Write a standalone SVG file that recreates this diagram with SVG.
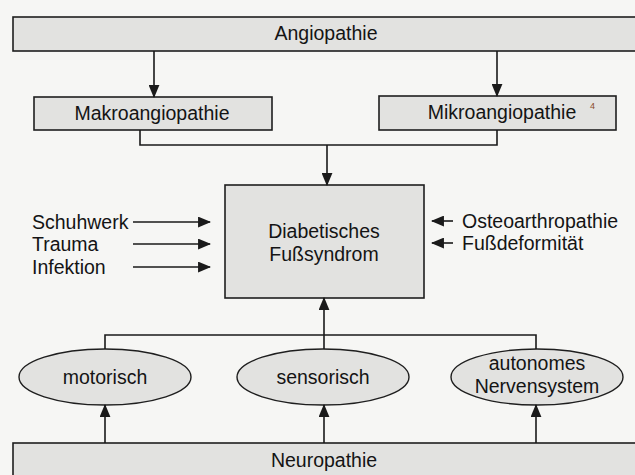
<svg xmlns="http://www.w3.org/2000/svg" width="635" height="475" viewBox="0 0 635 475">
<style>
.box{fill:#e2e2e0;stroke:#1e1e1e;stroke-width:1.6}
.ell{fill:#e2e2e0;stroke:#1e1e1e;stroke-width:1.4}
.t{font-family:"Liberation Sans",Arial,sans-serif;font-size:19.5px;fill:#141414;text-anchor:middle}
.tl{font-family:"Liberation Sans",Arial,sans-serif;font-size:19.5px;fill:#141414;text-anchor:start}
.c{fill:none;stroke:#1a1a1a;stroke-width:1.6}
.a{fill:none;stroke:#1a1a1a;stroke-width:1.6;marker-end:url(#ah)}
</style>
<defs>
<marker id="ah" viewBox="0 0 12 10" refX="11" refY="5" markerWidth="13" markerHeight="11" markerUnits="userSpaceOnUse" orient="auto">
<path d="M0,0 L12,5 L0,10 z" fill="#1a1a1a"/>
</marker>
</defs>
<rect x="0" y="0" width="635" height="475" fill="#f6f6f4"/>
<g id="angiopathie">
<rect class="box" x="13" y="17" width="640" height="34"/>
<text class="t" x="326" y="40">Angiopathie</text>
</g>
<g id="makroangiopathie">
<rect class="box" x="34" y="97" width="238" height="33"/>
<text class="t" x="152" y="120">Makroangiopathie</text>
</g>
<g id="mikroangiopathie">
<rect class="box" x="379" y="96" width="237" height="34"/>
<text class="t" x="502" y="119">Mikroangiopathie</text>
<text x="590" y="109" font-family="Liberation Sans,Arial,sans-serif" font-size="9" fill="#8a4a2a">4</text>
</g>
<g id="fusssyndrom">
<rect class="box" x="225" y="185" width="199" height="113"/>
<text class="t" x="324" y="238">Diabetisches</text>
<text class="t" x="324" y="261">Fußsyndrom</text>
</g>
<g id="schuhwerk"><text class="tl" x="32" y="229">Schuhwerk</text></g>
<g id="trauma"><text class="tl" x="32" y="251">Trauma</text></g>
<g id="infektion"><text class="tl" x="32" y="274">Infektion</text></g>
<g id="osteoarthropathie"><text class="tl" x="462" y="228">Osteoarthropathie</text></g>
<g id="fussdeformitaet"><text class="tl" x="462" y="250">Fußdeformität</text></g>
<g id="motorisch">
<ellipse class="ell" cx="105" cy="377" rx="86" ry="28"/>
<text class="t" x="105" y="384">motorisch</text>
</g>
<g id="sensorisch">
<ellipse class="ell" cx="323" cy="377" rx="86" ry="28"/>
<text class="t" x="323" y="384">sensorisch</text>
</g>
<g id="autonomes">
<ellipse class="ell" cx="537" cy="377" rx="86" ry="28"/>
<text class="t" x="537" y="370">autonomes</text>
<text class="t" x="537" y="393">Nervensystem</text>
</g>
<g id="neuropathie">
<rect class="box" x="13" y="443" width="640" height="40"/>
<text class="t" x="324" y="467">Neuropathie</text>
</g>
<g id="connectors">
<path class="a" d="M154,51 V97"/>
<path class="a" d="M497,51 V96"/>
<path class="c" d="M140,130 V145 H497 V130"/>
<path class="a" d="M327,145 V185"/>
<path class="a" d="M133,222 H210"/>
<path class="a" d="M133,244 H210"/>
<path class="a" d="M133,267 H210"/>
<path class="a" d="M453,221 H432"/>
<path class="a" d="M453,243 H432"/>
<path class="c" d="M105,349 V335 H536 V349"/>
<path class="a" d="M324,349 V298"/>
<path class="a" d="M105,443 V405"/>
<path class="a" d="M324,443 V405"/>
<path class="a" d="M536,443 V405"/>
</g>
</svg>
